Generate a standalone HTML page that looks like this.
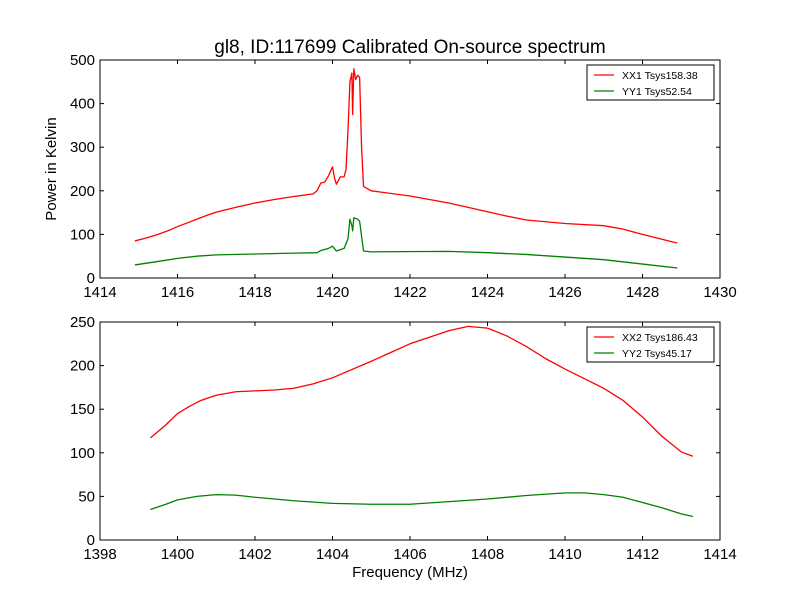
<!DOCTYPE html>
<html><head><meta charset="utf-8"><style>body{margin:0;background:#fff}svg{font-family:"Liberation Sans","DejaVu Sans",sans-serif}</style></head>
<body>
<svg id="c" width="800" height="600" xmlns="http://www.w3.org/2000/svg">
<rect width="800" height="600" fill="#fff"/>
<text x="410" y="53" font-size="19" text-anchor="middle">gl8, ID:117699 Calibrated On-source spectrum</text>
<text x="410" y="577" font-size="15" text-anchor="middle">Frequency (MHz)</text>
<text transform="translate(56,169) rotate(-90)" font-size="15" text-anchor="middle">Power in Kelvin</text>
</svg>
<script>
const xx1F=[1414.9,1415.2,1415.5,1415.8,1416,1416.3,1416.5,1416.8,1417,1417.5,1418,1418.5,1419,1419.5,1419.6,1419.7,1419.8,1419.9,1420.0,1420.05,1420.1,1420.2,1420.3,1420.35,1420.4,1420.45,1420.5,1420.52,1420.55,1420.6,1420.65,1420.7,1420.75,1420.8,1421,1422,1423,1424,1424.5,1425,1426,1427,1427.5,1428,1428.9];
const xx1V=[85,92,100,110,118,128,135,145,151,162,172,180,187,193,200,218,220,235,255,230,215,232,232,250,340,450,470,375,480,455,465,460,300,210,200,188,172,152,142,133,125,120,112,100,80];
const yy1F=[1414.9,1415.5,1416,1416.5,1417,1418,1419,1419.6,1419.7,1419.9,1420.0,1420.1,1420.3,1420.4,1420.45,1420.5,1420.52,1420.55,1420.65,1420.7,1420.8,1421,1423,1424,1425,1426,1427,1428,1428.9];
const yy1V=[30,38,45,50,53,55,57,58,63,68,73,62,68,90,135,120,108,138,135,130,62,60,61,58,54,48,42,32,23];
const xx2F=[1399.3,1399.7,1400,1400.3,1400.6,1401,1401.5,1402,1402.5,1403,1403.5,1404,1405,1406,1407,1407.5,1408,1408.5,1409,1409.5,1410,1410.5,1411,1411.5,1412,1412.5,1413,1413.3];
const xx2V=[117,132,145,153,160,166,170,171,172,174,179,186,205,225,240,245,243,234,222,208,196,185,174,160,141,119,101,96];
const yy2F=[1399.3,1399.7,1400,1400.5,1401,1401.5,1402,1403,1404,1405,1406,1407,1408,1409,1410,1410.5,1411,1411.5,1412,1412.5,1413,1413.3];
const yy2V=[35,41,46,50,52,51.5,49,45,42,41,41,44,47,51,54,54,52,49,43,37,30,27];
const xTicks1=[1414,1416,1418,1420,1422,1424,1426,1428,1430];
const yTicks1=[0,100,200,300,400,500];
const xTicks2=[1398,1400,1402,1404,1406,1408,1410,1412,1414];
const yTicks2=[0,50,100,150,200,250];
const NS="http://www.w3.org/2000/svg";
const svg=document.getElementById('c');
function mk(t,a){const e=document.createElementNS(NS,t);for(const k in a)e.setAttribute(k,a[k]);svg.appendChild(e);return e;}
function panel(top,xmin,xmax,ymax,xt,yt,series,legend,pname){
  const L=100,R=720,B=top+218;
  const sx=v=>L+(v-xmin)/(xmax-xmin)*(R-L), sy=v=>B-v/ymax*218;
  series.forEach(s=>{
    const p=mk('polyline',{points:s.f.map((f,i)=>sx(f)+','+sy(s.v[i])).join(' '),fill:'none',stroke:s.c,'stroke-width':1.3,'stroke-linejoin':'round'});
    
    
  });
  const fr=mk('rect',{x:L,y:top,width:R-L,height:218,fill:'none',stroke:'#000'});
  
  
  xt.forEach(v=>{const x=sx(v);
    mk('line',{x1:x,x2:x,y1:B,y2:B-4,stroke:'#000'});mk('line',{x1:x,x2:x,y1:top,y2:top+4,stroke:'#000'});
    const t=mk('text',{x:x,y:B+19,'font-size':15,'text-anchor':'middle'});t.textContent=v;
    
    });
  yt.forEach(v=>{const y=sy(v);
    mk('line',{x1:L,x2:L+4,y1:y,y2:y,stroke:'#000'});mk('line',{x1:R,x2:R-4,y1:y,y2:y,stroke:'#000'});
    const t=mk('text',{x:L-5,y:y+5,'font-size':15,'text-anchor':'end'});t.textContent=v;
    
    });
  const lb=mk('rect',{x:587,y:top+5,width:127,height:35,fill:'#fff',stroke:'#000'});
  
  
  legend.forEach((l,i)=>{const y=top+15+i*16;
    mk('line',{x1:594,x2:614,y1:y,y2:y,stroke:l.c,'stroke-width':1.3});
    const t=mk('text',{x:622,y:y+4,'font-size':10.5});t.textContent=l.t;
    
    });
}
panel(60,1414,1430,500,xTicks1,yTicks1,[{f:xx1F,v:xx1V,c:'#f00',name:'xx1-line'},{f:yy1F,v:yy1V,c:'#008000',name:'yy1-line'}],[{t:'XX1 Tsys158.38',c:'#f00'},{t:'YY1 Tsys52.54',c:'#008000'}],'top-panel');
panel(322,1398,1414,250,xTicks2,yTicks2,[{f:xx2F,v:xx2V,c:'#f00',name:'xx2-line'},{f:yy2F,v:yy2V,c:'#008000',name:'yy2-line'}],[{t:'XX2 Tsys186.43',c:'#f00'},{t:'YY2 Tsys45.17',c:'#008000'}],'bottom-panel');
</script>
</body></html>
